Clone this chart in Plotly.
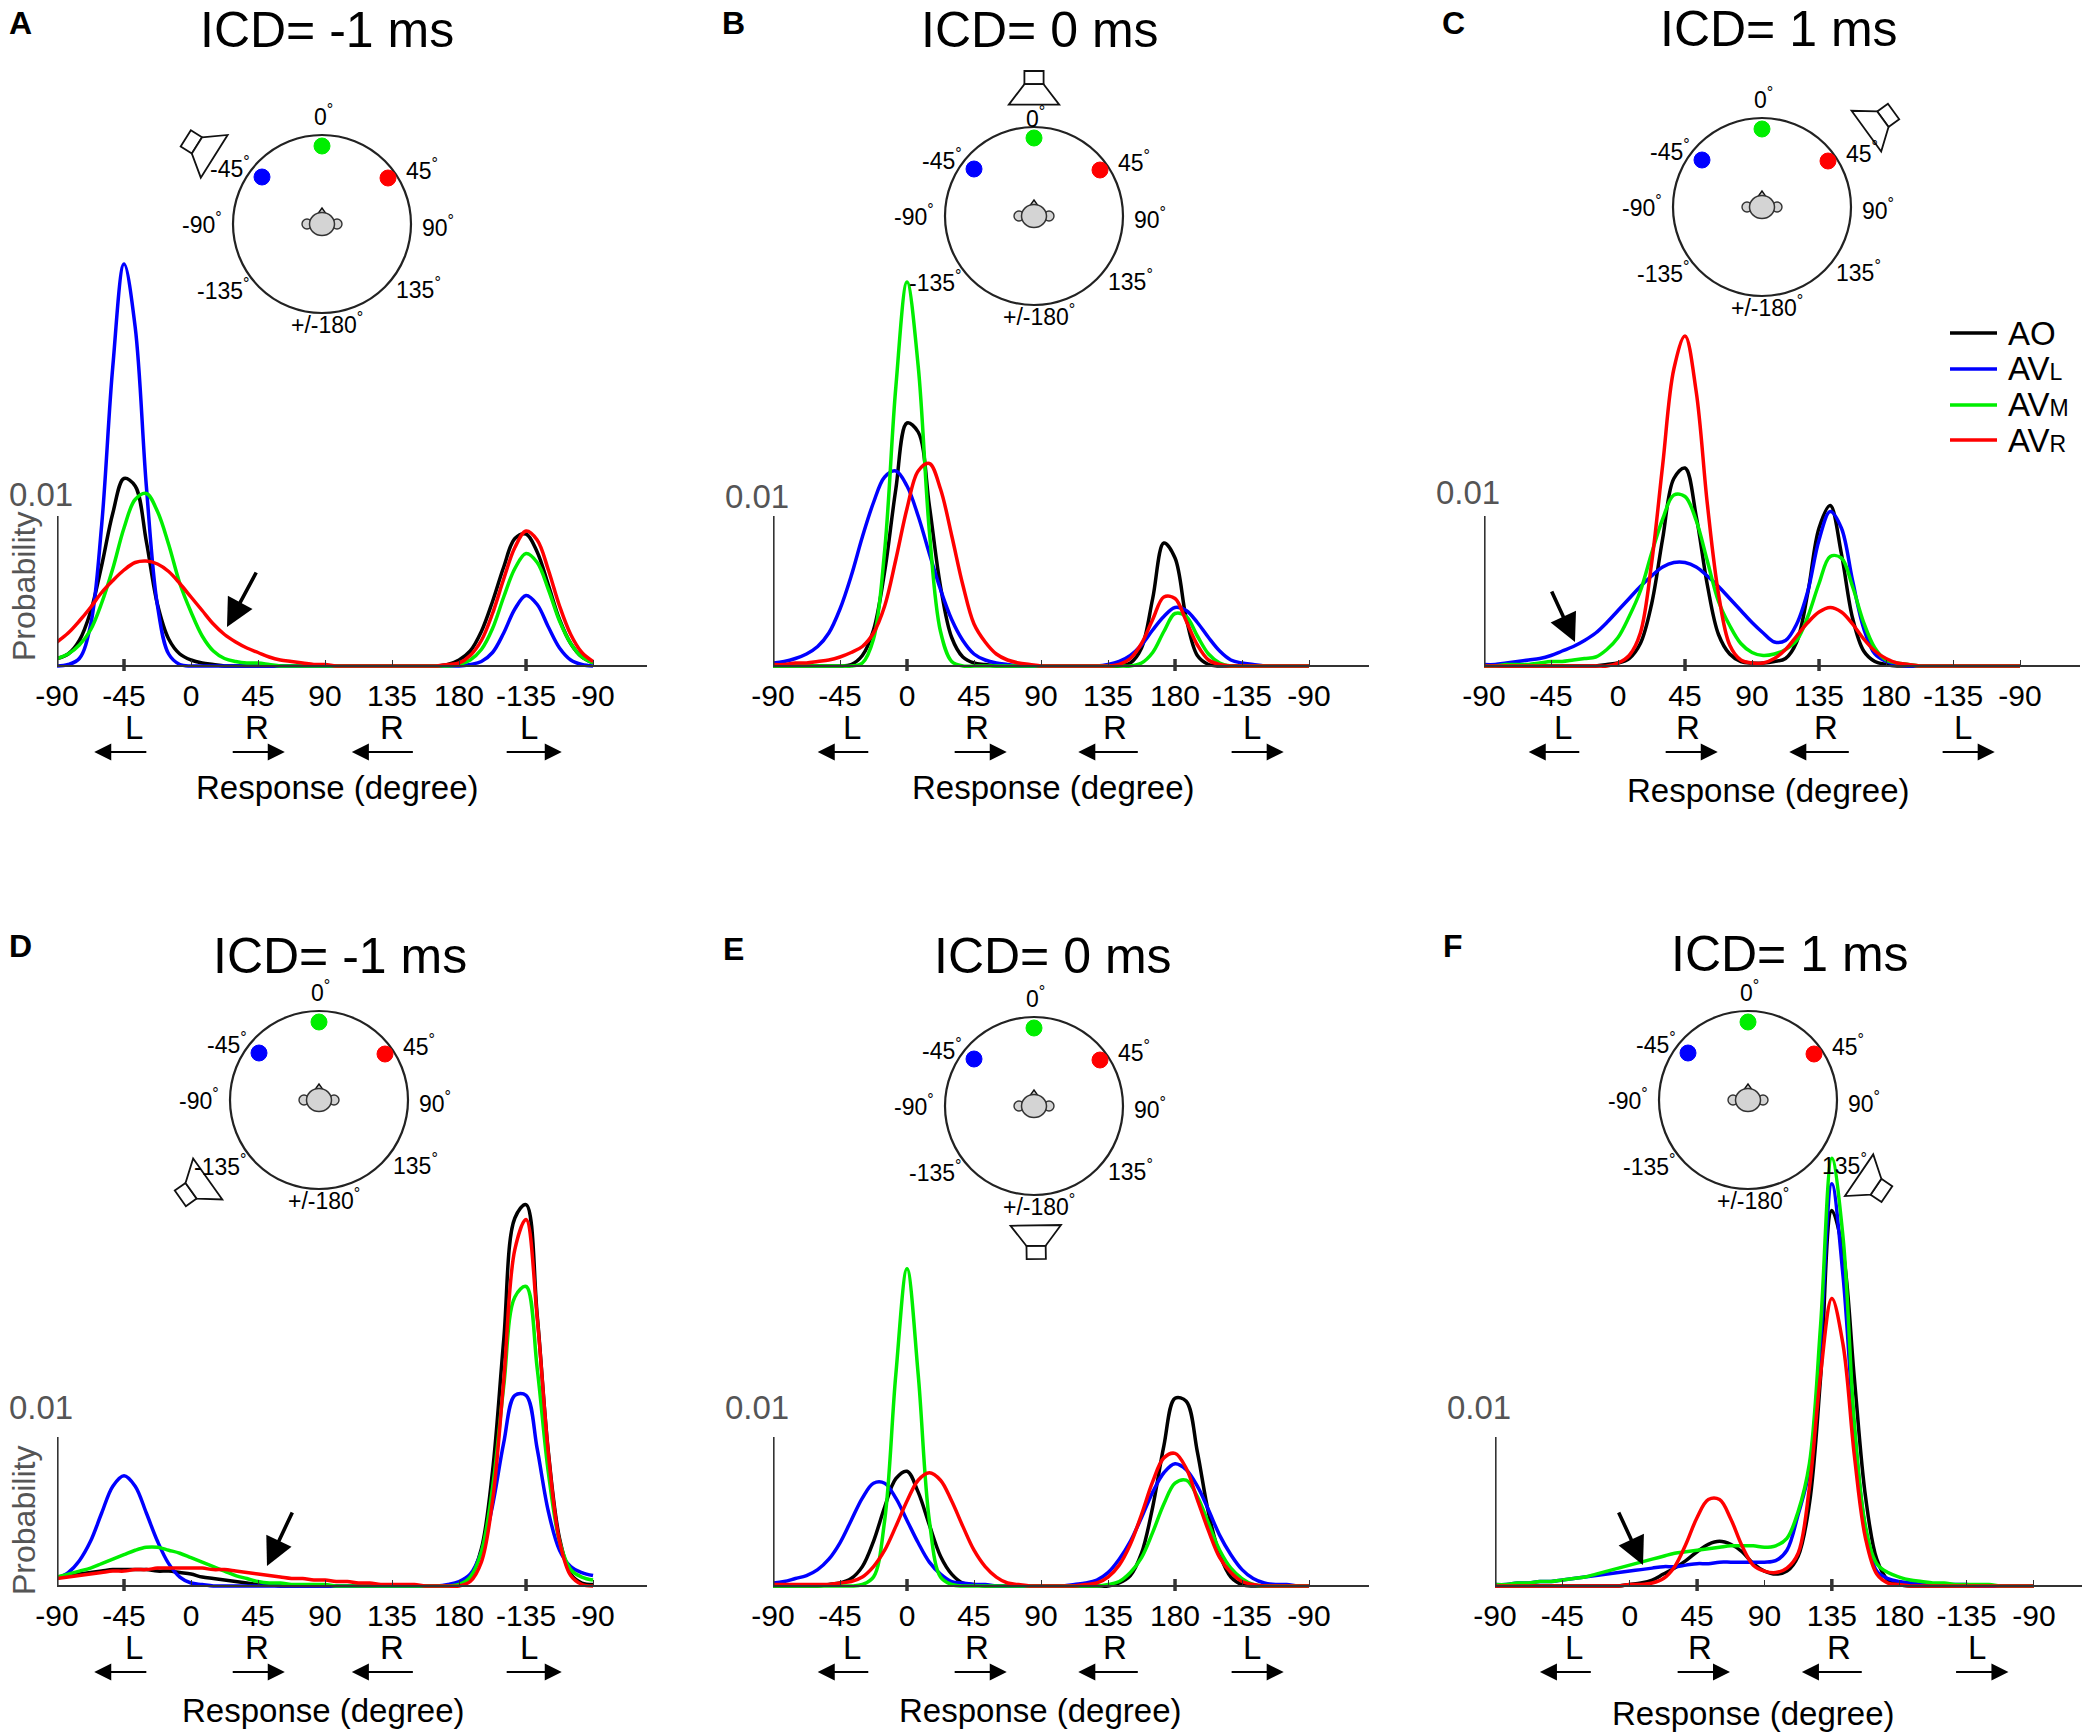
import math
import plotly.graph_objects as go

W, H = 2090, 1736
FONT = "Liberation Sans, Arial, Helvetica, sans-serif"
OFF_X, OFF_Y = 8, 8   # page body margin compensation

# ---------------- data ----------------
X_DEG = [-90, -82.5, -75, -67.5, -60, -52.5, -45, -37.5, -30, -22.5, -15, -7.5,
         0, 7.5, 15, 22.5, 30, 37.5, 45, 52.5, 60, 67.5, 75, 82.5,
         90, 97.5, 105, 112.5, 120, 127.5, 135, 142.5, 150, 157.5, 165, 172.5,
         180, 187.5, 195, 202.5, 210, 217.5, 225, 232.5, 240, 247.5, 255, 262.5, 270]
TICK_VALS = [-90, -45, 0, 45, 90, 135, 180, 225, 270]
TICK_TEXT = ["-90", "-45", "0", "45", "90", "135", "180", "-135", "-90"]
SERIES_NAMES = ["AO", "AVL", "AVM", "AVR"]
SERIES_COLORS = ["#000000", "#0000ff", "#00ee00", "#ff0000"]

# probability values in units of 1e-4 (100 = 0.01)
A_AO = [5, 8, 17, 36, 67, 102, 125, 120, 83, 41, 18, 8, 4, 2, 1] + [0] * 20 + [1, 4, 10, 23, 43, 66, 85, 88, 76, 54, 31, 15, 6, 2]
A_AVL = [0, 1, 5, 27, 94, 200, 268, 226, 120, 40, 8, 1, 0] + [0] * 24 + [1, 3, 9, 22, 38, 47, 41, 26, 12, 4, 1, 0]
A_AVM = [5, 8, 14, 24, 42, 65, 92, 111, 115, 103, 81, 55, 36, 20, 10, 5, 3, 2, 2, 1] + [0] * 16 + [1, 4, 11, 25, 46, 65, 75, 69, 51, 30, 15, 6, 2]
A_AVR = [16, 22, 30, 39, 49, 57, 64, 69, 70, 68, 63, 55, 46, 37, 28, 21, 16, 12, 9, 6, 4, 3, 2, 1, 1] + [0] * 10 + [1, 2, 7, 17, 35, 58, 79, 90, 84, 64, 40, 21, 9, 3]

B_AO = [0] * 7 + [1, 7, 24, 63, 118, 162, 156, 107, 53, 19, 6, 2, 1] + [0] * 12 + [2, 12, 45, 82, 72, 32, 7, 1] + [0] * 9
B_AVL = [2, 3, 5, 8, 13, 22, 38, 60, 86, 109, 126, 130, 120, 100, 75, 51, 31, 17, 8, 4, 2, 1] + [0] * 8 + [1, 3, 7, 14, 24, 33, 39, 37, 29, 19, 10, 4, 2, 1] + [0] * 5
B_AVM = [0] * 8 + [2, 18, 77, 186, 256, 200, 90, 23, 3] + [0] * 16 + [2, 9, 23, 35, 33, 20, 8, 2] + [0] * 8
B_AVR = [1, 1, 2, 2, 3, 4, 6, 9, 13, 22, 40, 71, 105, 130, 135, 118, 87, 54, 28, 16, 8, 4, 2, 1, 0] + [0] * 6 + [1, 5, 15, 31, 46, 45, 30, 14, 4, 1] + [0] * 8

C_AO = [0] * 11 + [1, 2, 5, 15, 41, 85, 125, 132, 100, 54, 21, 8, 3, 2, 2, 3, 5, 16, 49, 92, 107, 75, 32, 10, 3, 1] + [0] * 12
C_AVL = [1, 1, 2, 3, 4, 5, 7, 10, 13, 17, 22, 29, 37, 45, 53, 60, 66, 69, 69, 66, 60, 53, 45, 37, 29, 22, 16, 17, 28, 50, 84, 103, 92, 57, 25, 8, 3, 1] + [0] * 11
C_AVM = [0, 0, 1, 1, 1, 2, 3, 3, 4, 5, 6, 11, 19, 33, 50, 75, 98, 114, 113, 97, 70, 43, 27, 15, 9, 7, 8, 11, 17, 33, 55, 73, 72, 53, 29, 12, 4, 2, 1] + [0] * 10
C_AVR = [0] * 12 + [2, 7, 22, 68, 134, 198, 220, 183, 108, 48, 14, 4, 2, 2, 5, 11, 20, 29, 36, 39, 36, 28, 18, 10, 5, 2, 1] + [0] * 10

D_AO = [6, 7, 8, 9, 10, 11, 11, 11, 11, 10, 10, 9, 8, 6, 5, 4, 3, 2, 1, 1] + [0] * 16 + [1, 6, 25, 77, 165, 247, 256, 182, 90, 32, 8, 2, 1]
D_AVL = [5, 9, 17, 30, 49, 67, 74, 67, 49, 30, 15, 6, 2, 1, 0] + [0] * 19 + [0, 1, 3, 8, 23, 54, 96, 128, 128, 92, 50, 24, 13, 9, 7]
D_AVM = [6, 8, 10, 12, 15, 18, 21, 24, 26, 26, 24, 22, 19, 16, 13, 10, 7, 5, 3, 2, 2, 1, 1, 1, 1] + [0] * 11 + [1, 6, 23, 66, 134, 194, 201, 146, 76, 30, 11, 6, 4]
D_AVR = [5, 6, 7, 8, 9, 10, 10, 11, 11, 12, 12, 12, 12, 12, 11, 11, 10, 9, 8, 7, 6, 5, 5, 4, 4, 3, 3, 2, 2, 1, 1, 1, 1] + [0] * 4 + [3, 16, 57, 138, 226, 246, 180, 89, 30, 7, 1, 0]

E_AO = [0] * 5 + [1, 2, 5, 13, 30, 53, 72, 77, 63, 41, 20, 8, 2, 1] + [0] * 12 + [2, 7, 22, 53, 94, 126, 124, 90, 49, 21, 6, 1] + [0] * 6
E_AVL = [2, 3, 5, 7, 11, 18, 29, 44, 59, 69, 69, 59, 44, 29, 16, 8, 3, 2, 1, 1, 0] + [0] * 6 + [1, 2, 4, 9, 18, 30, 46, 63, 76, 82, 78, 67, 51, 34, 21, 11, 5, 2, 1, 1] + [0] * 2
E_AVM = [0] * 8 + [1, 6, 44, 142, 213, 142, 44, 6, 1] + [0] * 13 + [1, 3, 9, 19, 36, 55, 69, 71, 60, 42, 24, 12, 5, 1] + [0] * 5
E_AVR = [1, 1, 1, 1, 1, 1, 2, 3, 6, 13, 24, 40, 57, 71, 76, 71, 57, 40, 24, 13, 6, 2, 1] + [0] * 5 + [1, 2, 6, 14, 28, 48, 70, 86, 89, 79, 58, 37, 19, 9, 3, 1] + [0] * 5

F_AO = [0] * 12 + [1, 2, 4, 8, 12, 17, 23, 28, 30, 28, 23, 15, 10, 8, 10, 20, 55, 140, 252, 224, 140, 60, 18, 4, 1] + [0] * 12
F_AVL = [1, 1, 2, 2, 3, 3, 4, 5, 6, 7, 8, 9, 10, 11, 12, 13, 13, 14, 15, 15, 16, 16, 16, 16, 16, 17, 24, 48, 78, 165,
         270, 208, 105, 38, 10, 5, 3, 2, 1, 1, 1, 1, 1, 0, 0, 0, 0, 0, 0]
F_AVM = [1, 1, 2, 2, 3, 3, 4, 5, 6, 8, 10, 12, 14, 16, 18, 20, 22, 23, 24, 25, 26, 27, 27, 27, 26, 27, 32, 50, 82, 175,
         287, 234, 110, 40, 15, 9, 6, 4, 3, 2, 2, 1, 1, 1, 1, 0, 0, 0, 0]
F_AVR = [0] * 12 + [1, 1, 2, 5, 13, 28, 46, 58, 58, 45, 27, 14, 10, 9, 12, 22, 66, 142, 193, 162, 88, 32, 8, 2, 1] + [0] * 12

PANEL_DATA = {
    "A": [A_AO, A_AVL, A_AVM, A_AVR],
    "B": [B_AO, B_AVL, B_AVM, B_AVR],
    "C": [C_AO, C_AVL, C_AVM, C_AVR],
    "D": [D_AO, D_AVL, D_AVM, D_AVR],
    "E": [E_AO, E_AVL, E_AVM, E_AVR],
    "F": [F_AO, F_AVL, F_AVM, F_AVR],
}
PANEL_TITLES = {"A": "ICD= -1 ms", "B": "ICD= 0 ms", "C": "ICD= 1 ms",
                "D": "ICD= -1 ms", "E": "ICD= 0 ms", "F": "ICD= 1 ms"}
for k, v in PANEL_DATA.items():
    for s in v:
        assert len(s) == len(X_DEG), (k, len(s))

# ---------------- layout (pixel positions) ----------------
LR_1 = dict(labels=[("L", -38), ("R", 44), ("R", 135), ("L", 227)],
            arrows=[(-29, -65), (27, 63), (150, 108), (211, 249)])
LR_2 = dict(labels=[("L", -37), ("R", 47), ("R", 140), ("L", 232)],
            arrows=[(-25, -60), (31, 67), (156, 115), (217, 253)])

PANELS = [
    dict(key="A", x0=57, yb=666, u=150, ppd=1.489, xmax=306, bold=[-45, 225], title_xy=(327, 30),
         letter_xy=(20, 23), circ=(322, 224), spk=(-121, -76), big=((257, 571), (227, 627)), lr=LR_1,
         prob=(24, 587), resp=(337, 787), lab01=-172, top0=-109),
    dict(key="B", x0=773, yb=666, u=150, ppd=1.489, xmax=310, bold=[0, 180], title_xy=(1040, 30),
         letter_xy=(733, 23), circ=(1034, 216), spk=(0, -127), big=None, lr=LR_2,
         prob=None, resp=(1053, 787), lab01=-170, top0=-99),
    dict(key="C", x0=1484, yb=666, u=150, ppd=1.489, xmax=310, bold=[45, 135], title_xy=(1779, 29),
         letter_xy=(1453, 23), circ=(1762, 207), spk=(117, -85), big=((1551, 590), (1575, 642)), lr=LR_2,
         prob=None, resp=(1769, 790), lab01=-174, top0=-109),
    dict(key="D", x0=57, yb=1586, u=149, ppd=1.489, xmax=306, bold=[-45, 225], title_xy=(340, 956),
         letter_xy=(20, 946), circ=(319, 1100), spk=(-124, 88), big=((293, 1511), (267, 1566)), lr=LR_1,
         prob=(24, 1521), resp=(323, 1710), lab01=-179, top0=-109),
    dict(key="E", x0=773, yb=1586, u=149, ppd=1.489, xmax=310, bold=[0, 180], title_xy=(1053, 956),
         letter_xy=(733, 949), circ=(1034, 1106), spk=(2, 135), big=None, lr=LR_2,
         prob=None, resp=(1040, 1710), lab01=-179, top0=-109),
    dict(key="F", x0=1495, yb=1586, u=149, ppd=1.497, xmax=306, bold=[45, 135], title_xy=(1790, 954),
         letter_xy=(1453, 946), circ=(1748, 1100), spk=(124, 84), big=((1618, 1511), (1643, 1565)), lr=LR_2,
         prob=None, resp=(1753, 1713), lab01=-179, top0=-109),
]

CIRCLE_LABELS = [("0", 1, None), ("-45", -92, -57), ("45", 100, -55), ("-90", -120, -1),
                 ("90", 116, 2), ("-135", -99, 65), ("135", 96, 64), ("+/-180", 5, 99)]
DOTS = [(-60, -47, "#0000ff"), (0, -78, "#00ee00"), (66, -46, "#ff0000")]
CIRCLE_R = 89


def PX(px):
    return (px - OFF_X) / W


def PY(py):
    return 1 - (py - OFF_Y) / H


def txt(px, py, s, size, color="black", xanchor="center", yanchor="middle", **kw):
    return dict(x=PX(px), y=PY(py), xref="paper", yref="paper", text=s, showarrow=False,
                xanchor=xanchor, yanchor=yanchor,
                font=dict(size=size, color=color, family=FONT), **kw)


def arrow(tail, tip, width, size):
    return dict(x=PX(tip[0]), y=PY(tip[1]), xref="paper", yref="paper",
                ax=tail[0] - tip[0], ay=tail[1] - tip[1], axref="pixel", ayref="pixel",
                text="", showarrow=True, arrowhead=2, arrowwidth=width, arrowsize=size,
                arrowcolor="black", standoff=0, startstandoff=0)


def ellipse(cx, cy, rx, ry, fill, line_color, lw):
    return dict(type="circle", xref="paper", yref="paper",
                x0=PX(cx - rx), x1=PX(cx + rx), y0=PY(cy + ry), y1=PY(cy - ry),
                fillcolor=fill, line=dict(color=line_color, width=lw))


def poly(points, fill="white", lw=1.8):
    d = "M " + " L ".join(f"{PX(x):.5f},{PY(y):.5f}" for x, y in points) + " Z"
    return dict(type="path", xref="paper", yref="paper", path=d, fillcolor=fill,
                line=dict(color="#111111", width=lw))


def speaker(sx, sy, cx, cy, k=1.2):
    dx, dy = cx - sx, cy - sy
    n = math.hypot(dx, dy)
    dx, dy = dx / n, dy / n
    px_, py_ = -dy, dx

    def pt(u, v):
        return (sx + k * (u * dx + v * px_), sy + k * (u * dy + v * py_))
    rect = [pt(-15, -8), pt(-4, -8), pt(-4, 8), pt(-15, 8)]
    cone = [pt(-4, -8), pt(13, -21), pt(13, 21), pt(-4, 8)]
    return [poly(rect), poly(cone)]


fig = go.Figure()
shapes, annotations = [], []
layout_axes = {}

for i, p in enumerate(PANELS, start=1):
    xn = "x" if i == 1 else f"x{i}"
    yn = "y" if i == 1 else f"y{i}"
    x0, yb, u, ppd, xmax = p["x0"], p["yb"], p["u"], p["ppd"], p["xmax"]
    pad = 6
    ymax = 0.032
    ypad = pad / u * 0.01

    for vals, name, col in zip(PANEL_DATA[p["key"]], SERIES_NAMES, SERIES_COLORS):
        fig.add_trace(go.Scatter(
            x=X_DEG, y=[v * 1e-4 for v in vals], xaxis=xn, yaxis=yn, name=name,
            mode="lines", line=dict(color=col, width=3.5, shape="spline", smoothing=1.0),
            hoverinfo="skip", showlegend=False))

    layout_axes["xaxis" if i == 1 else f"xaxis{i}"] = dict(
        domain=[PX(x0), PX(x0 + (xmax + 90) * ppd)], range=[-90, xmax],
        anchor="free", position=PY(yb), automargin=False,
        showline=True, linecolor="#333333", linewidth=2,
        ticks="inside", ticklen=5, tickwidth=1.3, tickcolor="#333333",
        tickmode="array", tickvals=TICK_VALS, ticktext=TICK_TEXT,
        tickfont=dict(size=30, color="black", family=FONT), ticklabelstandoff=3,
        showgrid=False, zeroline=False, fixedrange=True)
    layout_axes["yaxis" if i == 1 else f"yaxis{i}"] = dict(
        domain=[PY(yb + pad), PY(yb - ymax / 0.01 * u)], range=[-ypad, ymax],
        visible=False, anchor=xn, fixedrange=True, automargin=False)

    # probability scale bar
    shapes.append(dict(type="line", xref=xn, yref=yn, x0=-90, x1=-90, y0=0, y1=0.01,
                       line=dict(color="#333333", width=3.2)))
    shapes.append(dict(type="line", xref=xn, yref=yn, x0=-92.5, x1=-90, y0=0.0099, y1=0.0099,
                       line=dict(color="#333333", width=3)))
    for b in p["bold"]:
        shapes.append(dict(type="line", xref=xn, yref="paper", x0=b, x1=b,
                           y0=PY(yb + 5), y1=PY(yb - 7), line=dict(color="#333333", width=3.5)))
    annotations.append(txt(x0 - 16, yb + p["lab01"], "0.01", 33, color="#555555"))
    if p["prob"]:
        annotations.append(txt(p["prob"][0], p["prob"][1], "Probability", 32, color="#555555",
                               textangle=-90))
    for lab, deg in p["lr"]["labels"]:
        annotations.append(txt(x0 + (deg + 90) * ppd, yb + 61, lab, 33))
    for a, b in p["lr"]["arrows"]:
        annotations.append(arrow((x0 + (a + 90) * ppd, yb + 86), (x0 + (b + 90) * ppd, yb + 86), 2.2, 1.55))
    annotations.append(txt(p["resp"][0], p["resp"][1], "Response (degree)", 33))
    annotations.append(txt(p["title_xy"][0], p["title_xy"][1], PANEL_TITLES[p["key"]], 50))
    annotations.append(txt(p["letter_xy"][0], p["letter_xy"][1], f"<b>{p['key']}</b>", 32))
    if p["big"]:
        annotations.append(arrow(p["big"][0], p["big"][1], 3.6, 1.55))

    # head diagram
    cx, cy = p["circ"]
    shapes.append(ellipse(cx, cy, CIRCLE_R, CIRCLE_R, "rgba(0,0,0,0)", "#222222", 2.2))
    for dx, dy, col in DOTS:
        shapes.append(ellipse(cx + dx, cy + dy, 8, 8, col, col, 1))
    shapes.append(ellipse(cx - 15, cy, 5, 5, "#d4d4d4", "#333333", 1.4))
    shapes.append(ellipse(cx + 15, cy, 5, 5, "#d4d4d4", "#333333", 1.4))
    shapes.append(poly([(cx - 5, cy - 9), (cx, cy - 16), (cx + 5, cy - 9)], fill="#d4d4d4", lw=1.4))
    shapes.append(ellipse(cx, cy, 12.5, 11.5, "#d4d4d4", "#333333", 1.5))
    for lab, dx, dy in CIRCLE_LABELS:
        if dy is None:
            dy = p["top0"]
        annotations.append(txt(cx + dx, cy + dy, lab + "<sup>°</sup>", 23))
    sx, sy = cx + p["spk"][0], cy + p["spk"][1]
    shapes.extend(speaker(sx, sy, cx, cy))

# legend (panel C)
LEG_Y = [333, 369, 405, 440]
LEG_TEXT = ["AO", "AV<span style='font-size:23px'>L</span>",
            "AV<span style='font-size:23px'>M</span>", "AV<span style='font-size:23px'>R</span>"]
for yy, t, col in zip(LEG_Y, LEG_TEXT, SERIES_COLORS):
    shapes.append(dict(type="line", xref="paper", yref="paper", x0=PX(1950), x1=PX(1997),
                       y0=PY(yy), y1=PY(yy), line=dict(color=col, width=3.6)))
    annotations.append(txt(2006, yy, t, 33, xanchor="left"))

fig.update_layout(
    template="none",
    width=W, height=H, margin=dict(l=0, r=0, t=0, b=0, pad=0, autoexpand=False),
    paper_bgcolor="white", plot_bgcolor="rgba(0,0,0,0)",
    showlegend=False, shapes=shapes, annotations=annotations,
    font=dict(family=FONT, color="black"),
    **layout_axes)

fig.write_html("out.html")
